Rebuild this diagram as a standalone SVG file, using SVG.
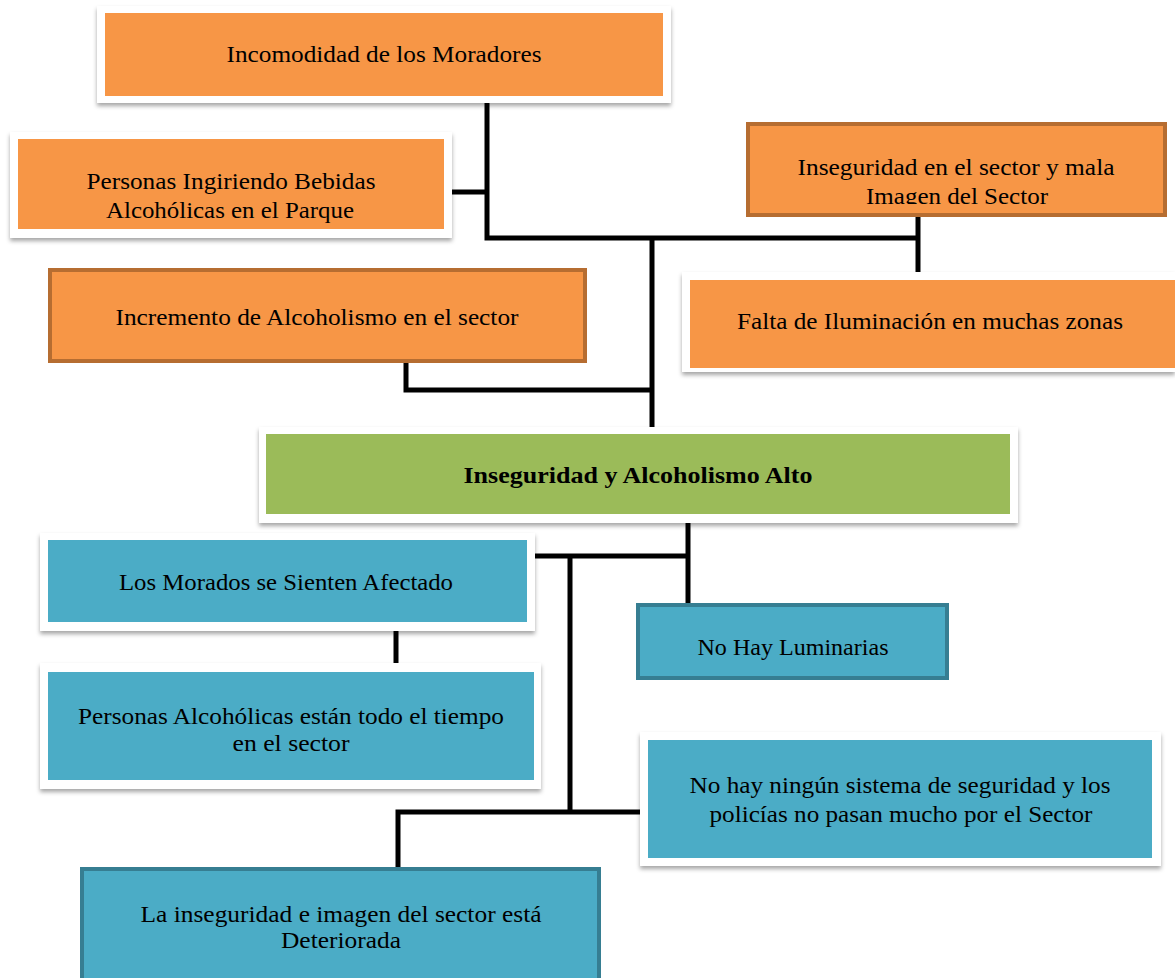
<svg xmlns="http://www.w3.org/2000/svg" width="1175" height="978" viewBox="0 0 1175 978">
<style>
.t{font-family:"Liberation Serif","DejaVu Serif",serif;font-size:23px;fill:#000;text-anchor:middle}
.b{font-weight:bold}
.frame{fill:#fff;filter:url(#sh)}
.or{fill:#F79646}
.orb{fill:#F79646;stroke:#B66D31;stroke-width:4}
.gr{fill:#9BBB59}
.bl{fill:#4BACC6}
.blb{fill:#4BACC6;stroke:#367E92;stroke-width:4}
.c{stroke:#000;stroke-width:5;fill:none}
</style>
<defs>
<filter id="sh" x="-5%" y="-10%" width="110%" height="130%">
<feDropShadow dx="0" dy="3" stdDeviation="2" flood-color="#000" flood-opacity="0.35"/>
</filter>
<clipPath id="clipC"><rect x="748" y="124" width="417" height="80"/></clipPath>
</defs>
<rect width="1175" height="978" fill="#fff"/>
<g id="connectors">
<polyline class="c" points="487,103 487,238 918,238"/>
<line class="c" x1="452" y1="192" x2="487" y2="192"/>
<line class="c" x1="918" y1="216" x2="918" y2="274"/>
<line class="c" x1="652" y1="238" x2="652" y2="430"/>
<polyline class="c" points="406,362 406,390 652,390"/>
<line class="c" x1="688" y1="520" x2="688" y2="605"/>
<line class="c" x1="535" y1="556" x2="688" y2="556"/>
<line class="c" x1="570" y1="556" x2="570" y2="812"/>
<line class="c" x1="396" y1="631" x2="396" y2="677"/>
<polyline class="c" points="398,870 398,812 640,812"/>
</g>
<g id="n1">
<rect class="frame" x="97" y="6" width="574" height="97"/>
<rect class="or" x="105" y="13" width="558" height="83"/>
<text class="t" x="384" y="62" textLength="315" lengthAdjust="spacingAndGlyphs">Incomodidad de los Moradores</text>
</g>
<g id="n2">
<rect class="frame" x="10" y="132" width="442" height="106"/>
<rect class="or" x="18" y="139" width="426" height="90"/>
<text class="t" x="231" y="189" textLength="289" lengthAdjust="spacingAndGlyphs">Personas Ingiriendo Bebidas</text>
<text class="t" x="230" y="218" textLength="248" lengthAdjust="spacingAndGlyphs">Alcohólicas en el Parque</text>
</g>
<g id="n3">
<rect class="orb" x="748" y="124" width="417" height="91"/>
<g clip-path="url(#clipC)">
<text class="t" x="956" y="175" textLength="317" lengthAdjust="spacingAndGlyphs">Inseguridad  en el sector y mala</text>
<text class="t" x="957" y="204" textLength="182" lengthAdjust="spacingAndGlyphs">Imagen del Sector</text>
</g>
</g>
<g id="n4">
<rect class="orb" x="50" y="270" width="535" height="91"/>
<text class="t" x="317" y="325" textLength="403" lengthAdjust="spacingAndGlyphs">Incremento de Alcoholismo en el sector</text>
</g>
<g id="n5">
<rect class="frame" x="682" y="272" width="493" height="100"/>
<rect class="or" x="690" y="280" width="485" height="88"/>
<text class="t" x="930" y="329" textLength="386" lengthAdjust="spacingAndGlyphs">Falta de Iluminación en muchas zonas</text>
</g>
<g id="n6">
<rect class="frame" x="259" y="427" width="759" height="96"/>
<rect class="gr" x="266" y="434" width="744" height="80"/>
<text class="t b" x="638" y="483" textLength="349" lengthAdjust="spacingAndGlyphs">Inseguridad y Alcoholismo Alto</text>
</g>
<g id="n7">
<rect class="frame" x="40" y="533" width="495" height="98"/>
<rect class="bl" x="48" y="540" width="479" height="82"/>
<text class="t" x="286" y="590" textLength="334" lengthAdjust="spacingAndGlyphs">Los Morados se Sienten Afectado</text>
</g>
<g id="n8">
<rect class="blb" x="638" y="605" width="309" height="73"/>
<text class="t" x="793" y="655" textLength="191" lengthAdjust="spacingAndGlyphs">No Hay Luminarias</text>
</g>
<g id="n9">
<rect class="frame" x="40" y="663" width="501" height="126"/>
<rect class="bl" x="48" y="672" width="486" height="108"/>
<text class="t" x="291" y="724" textLength="426" lengthAdjust="spacingAndGlyphs">Personas Alcohólicas están todo el tiempo</text>
<text class="t" x="291" y="751" textLength="117" lengthAdjust="spacingAndGlyphs">en el sector</text>
</g>
<g id="n10">
<rect class="frame" x="640" y="732" width="521" height="134"/>
<rect class="bl" x="648" y="740" width="504" height="118"/>
<text class="t" x="900" y="793" textLength="421" lengthAdjust="spacingAndGlyphs">No hay ningún sistema de seguridad y los</text>
<text class="t" x="901" y="822" textLength="383" lengthAdjust="spacingAndGlyphs">policías no pasan mucho por el Sector</text>
</g>
<g id="n11">
<rect class="blb" x="82" y="869" width="517" height="111"/>
<text class="t" x="341" y="922" textLength="401" lengthAdjust="spacingAndGlyphs">La inseguridad  e imagen del sector está</text>
<text class="t" x="341" y="948" textLength="120" lengthAdjust="spacingAndGlyphs">Deteriorada</text>
</g>
</svg>
